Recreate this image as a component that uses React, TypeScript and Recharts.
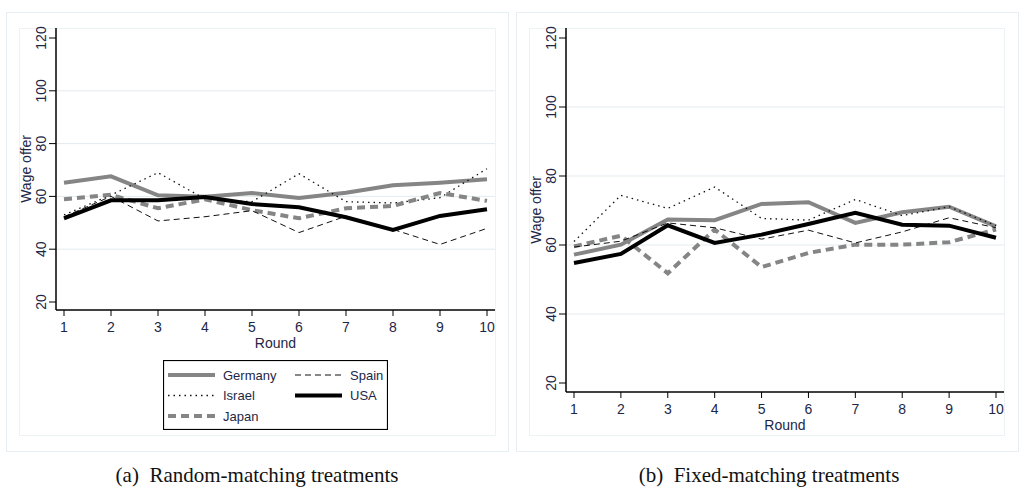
import { LineChart, Line, XAxis, YAxis, ReferenceLine, Legend, Label } from 'recharts';

const rounds = [1, 2, 3, 4, 5, 6, 7, 8, 9, 10];
const yTicks = [20, 40, 60, 80, 100, 120];
const gridValues = [40, 60, 80, 100];

// (a) random matching
const randomGermany = [65.2, 67.6, 60.4, 59.9, 61.3, 59.4, 61.4, 64.2, 65.2, 66.5];
const randomIsrael = [53, 60.5, 69, 59, 58, 68.6, 58, 57.5, 59.5, 70.5];
const randomJapan = [58.9, 60.6, 55.5, 58.9, 54.8, 51.7, 55.5, 56.4, 61.3, 58.3];
const randomSpain = [52.3, 60, 50.7, 52.3, 54.6, 46.3, 52.5, 47.5, 41.8, 47.9];
const randomUSA = [51.7, 58.5, 58.5, 59.8, 57.1, 55.9, 52.1, 47.3, 52.6, 55.1];

// (b) fixed matching
const fixedGermany = [57.2, 60.1, 67.4, 67.2, 71.9, 72.4, 66.4, 69.5, 71.1, 65.4];
const fixedIsrael = [61, 74.4, 70.6, 76.8, 67.7, 67.2, 73.2, 68.5, 71.1, 65.6];
const fixedJapan = [59.6, 62.7, 51.8, 64.5, 53.6, 57.7, 60.1, 60.1, 60.8, 64.5];
const fixedSpain = [59.4, 61.1, 66.4, 65, 61.7, 64.3, 60.6, 63.8, 67.9, 65];
const fixedUSA = [54.8, 57.4, 65.7, 60.6, 63, 66.1, 69.3, 65.9, 65.6, 62.1];

const series = [
  { key: 'Germany', stroke: '#858585', width: 4, dash: undefined },
  { key: 'Israel', stroke: '#111111', width: 1.3, dash: '1.5 4' },
  { key: 'Japan', stroke: '#858585', width: 4, dash: '8 5' },
  { key: 'Spain', stroke: '#111111', width: 1, dash: '6 4' },
  { key: 'USA', stroke: '#000000', width: 4, dash: undefined },
];

const buildRows = (g: number[], i: number[], j: number[], s: number[], u: number[]) =>
  rounds.map((r, k) => ({ round: r, Germany: g[k], Israel: i[k], Japan: j[k], Spain: s[k], USA: u[k] }));

const randomRows = buildRows(randomGermany, randomIsrael, randomJapan, randomSpain, randomUSA);
const fixedRows = buildRows(fixedGermany, fixedIsrael, fixedJapan, fixedSpain, fixedUSA);

const TEXT = '#1c2747';
const FONT = '"Liberation Sans", Arial, sans-serif';

const YTick = (props: any) => {
  const { x, y, payload } = props;
  const cx = x - 6;
  return (
    <text x={cx} y={y} transform={`rotate(-90 ${cx} ${y})`} textAnchor="middle" dominantBaseline="central"
      fontSize={14} fontFamily={FONT} fill={TEXT}>
      {payload.value}
    </text>
  );
};

const LegendBox = () => {
  const cols = [
    { x: 0, items: ['Germany', 'Israel', 'Japan'] },
    { x: 127, items: ['Spain', 'USA'] },
  ];
  return (
    <svg width={225} height={70} style={{ display: 'block' }}>
      <rect x={0.5} y={0.5} width={224} height={69} fill="#fff" stroke="#000" strokeWidth={1.2} />
      {cols.map((c) =>
        c.items.map((name, r) => {
          const st = series.find((s) => s.key === name)!;
          const cy = 15 + r * 20.5;
          return (
            <g key={name}>
              <line x1={c.x + 5} x2={c.x + 52} y1={cy} y2={cy} stroke={st.stroke} strokeWidth={st.width}
                strokeDasharray={st.dash} />
              <text x={c.x + 60} y={cy} dominantBaseline="central" fontSize={13} fontFamily={FONT} fill={TEXT}>
                {name}
              </text>
            </g>
          );
        })
      )}
    </svg>
  );
};

interface PanelProps {
  rows: any[];
  margin: { top: number; right: number; bottom: number; left: number };
  yPad: { top: number; bottom: number };
  showLegend?: boolean;
}

function Panel({ rows, margin, yPad, showLegend }: PanelProps) {
  return (
    <LineChart width={512} height={460} data={rows} margin={margin}>
      {gridValues.map((v) => (
        <ReferenceLine key={v} y={v} stroke="#e3ebee" strokeWidth={1} />
      ))}
      <XAxis dataKey="round" type="number" domain={[1, 10]} ticks={rounds} interval={0}
        padding={{ left: 8, right: 8 }} height={40} tickSize={6} tickMargin={6}
        axisLine={{ stroke: '#000', strokeWidth: 1.5 }} tickLine={{ stroke: '#000' }}
        tick={{ fontSize: 14, fontFamily: FONT, fill: TEXT }}>
        <Label content={(p: any) => {
          const vb = p.viewBox;
          return (
            <text x={vb.x + vb.width / 2} y={vb.y + 33} textAnchor="middle" dominantBaseline="central"
              fontSize={14} fontFamily={FONT} fill={TEXT}>Round</text>
          );
        }} />
      </XAxis>
      <YAxis type="number" domain={[20, 120]} ticks={yTicks} interval={0} width={37}
        padding={yPad} tickSize={7} axisLine={{ stroke: '#000', strokeWidth: 1.5 }}
        tickLine={{ stroke: '#000' }} tick={<YTick />}>
        <Label content={(p: any) => {
          const vb = p.viewBox;
          const cx = vb.x + vb.width - 30;
          const cy = vb.y + vb.height / 2;
          return (
            <text x={cx} y={cy} transform={`rotate(-90 ${cx} ${cy})`} textAnchor="middle"
              dominantBaseline="central" fontSize={14} fontFamily={FONT} fill={TEXT}>Wage offer</text>
          );
        }} />
      </YAxis>
      {series.map((s) => (
        <Line key={s.key} dataKey={s.key} type="linear" stroke={s.stroke} strokeWidth={s.width}
          strokeDasharray={s.dash} dot={false} activeDot={false} isAnimationActive={false} />
      ))}
      {showLegend && (
        <Legend layout="horizontal" verticalAlign="middle" align="center" content={<LegendBox />}
          wrapperStyle={{ position: 'absolute', left: 163, top: 360, width: 225, height: 70 }} />
      )}
    </LineChart>
  );
}

const frame = (left: number, top: number, w: number, h: number, color: string) => ({
  position: 'absolute' as const, left, top, width: w, height: h, border: `1.5px solid ${color}`, boxSizing: 'border-box' as const,
});

const captionStyle = (cx: number) => ({
  position: 'absolute' as const, left: cx - 200, width: 400, top: 463, textAlign: 'center' as const,
  fontFamily: '"Liberation Serif", "Times New Roman", serif', fontSize: 21, color: '#111',
});

export default function App() {
  return (
    <div style={{ position: 'absolute', left: 0, top: 0, width: 1024, height: 504, background: '#fff' }}>
      <div style={frame(6, 12, 503, 440, '#e7eff2')} />
      <div style={frame(19, 28, 477, 408, '#edf3f5')} />
      <div style={frame(516, 12, 503, 440, '#e7eff2')} />
      <div style={frame(529, 28, 476, 408, '#edf3f5')} />
      <div style={{ position: 'absolute', left: 0, top: 0 }}>
        <Panel rows={randomRows} margin={{ top: 28, right: 17, bottom: 110, left: 19 }}
          yPad={{ top: 10, bottom: 8 }} showLegend />
      </div>
      <div style={{ position: 'absolute', left: 512, top: 0 }}>
        <Panel rows={fixedRows} margin={{ top: 28, right: 20, bottom: 28, left: 17 }}
          yPad={{ top: 10, bottom: 9 }} />
      </div>
      <div style={captionStyle(257)}>(a)&nbsp; Random-matching treatments</div>
      <div style={captionStyle(769)}>(b)&nbsp; Fixed-matching treatments</div>
    </div>
  );
}
